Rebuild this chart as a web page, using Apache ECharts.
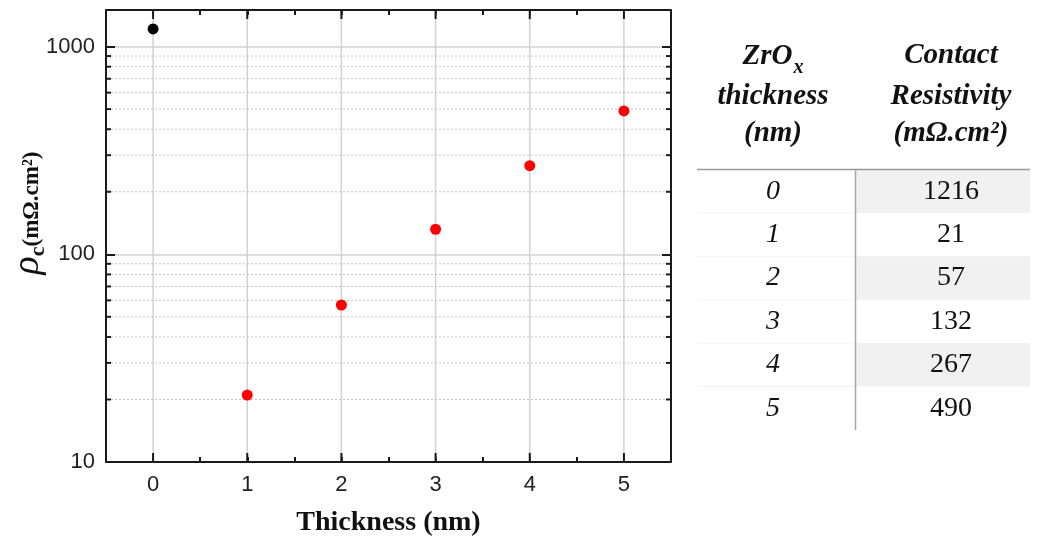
<!DOCTYPE html>
<html>
<head>
<meta charset="utf-8">
<script src="https://cdn.jsdelivr.net/npm/echarts@6/dist/echarts.min.js"></script>
<style>
  html, body { margin: 0; padding: 0; background: #ffffff; }
  #chart { width: 1038px; height: 538px; }
</style>
</head>
<body>
<div id="chart"></div>
<script>
// ZrOx interlayer thickness (nm) and measured contact resistivity (mΩ·cm²)
const thickness = [0, 1, 2, 3, 4, 5];
const resistivity = [1216, 21, 57, 132, 267, 490];

// labelled decades on the log axis and the dotted minor grid levels between them
const yTickLabels = [10, 100, 1000];
const yMinorLevels = [20, 30, 40, 50, 60, 70, 80, 90, 200, 300, 400, 500, 600, 700, 800, 900];

const AXIS_COLOR = '#1a1a1a';
const GRID_COLOR = '#d2d2d2';
const SANS = 'Liberation Sans, Arial, sans-serif';
const SERIF = 'Liberation Serif, Times New Roman, serif';

// reference sample (no ZrOx) in black, ZrOx samples in red
const bareData = [[thickness[0], resistivity[0]]];
const zrData = thickness.slice(1).map((t, i) => [t, resistivity[i + 1]]);

const chart = echarts.init(document.getElementById('chart'), null, { renderer: 'canvas' });

// ---- table on the right, built from the same arrays ----
const tableLeft = 697, tableRight = 1030, colSplit = 855.5;
const headTop = 169.5, rowH = 43.4;
const col1X = 773, col2X = 951;
const tableEls = [];

const headStyle = { fontFamily: SERIF, fontWeight: 'bold', fontStyle: 'italic', fontSize: 29, fill: '#111' };
const headLines = [
  [{ text: '{b|ZrO}{s|x}' }, { text: 'Contact' }],
  [{ text: 'thickness' }, { text: 'Resistivity' }],
  [{ text: '(nm)' }, { text: '(mΩ.cm²)' }]
];
const headY = [56, 97, 134];
headLines.forEach((pair, li) => {
  [col1X, col2X].forEach((cx, ci) => {
    tableEls.push({
      type: 'text', x: cx, y: headY[li], silent: true,
      style: Object.assign({}, headStyle, {
        text: pair[ci].text, align: 'center', verticalAlign: 'middle',
        rich: {
          b: { fontFamily: SERIF, fontWeight: 'bold', fontStyle: 'italic', fontSize: 29, fill: '#111', verticalAlign: 'bottom', lineHeight: 30 },
          s: { fontFamily: SERIF, fontWeight: 'bold', fontStyle: 'italic', fontSize: 20, fill: '#111', verticalAlign: 'bottom', lineHeight: 30, padding: [0, 0, -7, 1] }
        }
      })
    });
  });
});

thickness.forEach((t, i) => {
  const top = headTop + i * rowH;
  if (i % 2 === 0) {
    tableEls.push({ type: 'rect', silent: true, shape: { x: colSplit, y: top, width: tableRight - colSplit, height: rowH }, style: { fill: '#f1f1f1' } });
  }
  if (i > 0) {
    tableEls.push({ type: 'line', silent: true, shape: { x1: tableLeft, y1: top, x2: colSplit, y2: top }, style: { stroke: '#f3f3f3', lineWidth: 1 } });
  }
  tableEls.push({
    type: 'text', silent: true, x: col1X, y: top + rowH / 2,
    style: { text: String(t), fontFamily: SERIF, fontStyle: 'italic', fontSize: 28, fill: '#111', align: 'center', verticalAlign: 'middle' }
  });
  tableEls.push({
    type: 'text', silent: true, x: col2X, y: top + rowH / 2,
    style: { text: String(resistivity[i]), fontFamily: SERIF, fontSize: 28, fill: '#111', align: 'center', verticalAlign: 'middle' }
  });
});
const tableBottom = headTop + thickness.length * rowH;
tableEls.push({ type: 'line', silent: true, z: 10, shape: { x1: tableLeft, y1: headTop, x2: tableRight, y2: headTop }, style: { stroke: '#9a9a9a', lineWidth: 1.5 } });
tableEls.push({ type: 'line', silent: true, z: 10, shape: { x1: colSplit, y1: headTop, x2: colSplit, y2: tableBottom }, style: { stroke: '#a8a8a8', lineWidth: 1.5 } });

// rotated y-axis title: ρc(mΩ.cm²)
const yTitle = {
  type: 'text', x: 27, y: 213, rotation: Math.PI / 2, silent: true,
  style: {
    text: '{r|ρ}{c|c}{u|(mΩ.cm²)}', align: 'center', verticalAlign: 'middle',
    rich: {
      r: { fontFamily: SERIF, fontStyle: 'italic', fontSize: 38, fill: '#111', verticalAlign: 'bottom', lineHeight: 40 },
      c: { fontFamily: SERIF, fontWeight: 'bold', fontSize: 22, fill: '#111', verticalAlign: 'bottom', lineHeight: 40, padding: [0, 0, -2, 0] },
      u: { fontFamily: SERIF, fontWeight: 'bold', fontSize: 23, fill: '#111', verticalAlign: 'bottom', lineHeight: 40, padding: [0, 0, 3, 0] }
    }
  }
};

const xAxisBase = {
  type: 'value', min: -0.5, max: 5.5, interval: 0.5,
  axisLine: { show: true, onZero: false, lineStyle: { color: AXIS_COLOR, width: 2 } },
  axisTick: { show: true, inside: true, length: 5, lineStyle: { color: AXIS_COLOR, width: 2 } },
  splitLine: { show: false }
};
const yAxisBase = {
  type: 'log', logBase: 10, min: 10, max: 1500,
  axisLine: { show: true, onZero: false, lineStyle: { color: AXIS_COLOR, width: 2 } },
  axisTick: { show: true, inside: true, length: 9, lineStyle: { color: AXIS_COLOR, width: 2 } },
  minorTick: { show: false },
  minorSplitLine: { show: false }
};

chart.setOption({
  animation: false,
  backgroundColor: '#ffffff',
  grid: { left: 106, right: 367, top: 10, bottom: 76, containLabel: false, outerBoundsMode: 'none' },
  graphic: tableEls.concat([yTitle]),
  xAxis: [
    Object.assign({}, xAxisBase, {
      position: 'bottom',
      name: 'Thickness (nm)', nameLocation: 'middle', nameGap: 47,
      nameTextStyle: { fontFamily: SERIF, fontWeight: 'bold', fontSize: 28, color: '#111' },
      axisLabel: {
        margin: 12, color: '#222', fontFamily: SANS, fontSize: 22,
        formatter: v => (Math.abs(v - Math.round(v)) < 1e-9 ? String(Math.round(v)) : '')
      }
    }),
    Object.assign({}, xAxisBase, { position: 'top', axisLabel: { show: false } })
  ],
  yAxis: [
    Object.assign({}, yAxisBase, {
      position: 'left',
      axisLabel: {
        margin: 11, color: '#222', fontFamily: SANS, fontSize: 22,
        formatter: v => (yTickLabels.some(d => Math.abs(d - v) < 1e-6) ? String(v) : '')
      },
      splitLine: { show: true, lineStyle: { color: GRID_COLOR, width: 1.5 } }
    }),
    Object.assign({}, yAxisBase, { position: 'right', axisLabel: { show: false }, splitLine: { show: false } })
  ],
  series: [
    {
      // vertical grid lines and long ticks at every thickness
      type: 'custom', silent: true, z: 1, xAxisIndex: 0, yAxisIndex: 0,
      data: thickness.map(t => [t, yTickLabels[0]]),
      encode: { x: 0, y: 1 },
      renderItem: (params, api) => {
        const cs = params.coordSys;
        const x = api.coord([api.value(0), yTickLabels[0]])[0];
        const bottom = cs.y + cs.height;
        return {
          type: 'group',
          children: [
            { type: 'line', shape: { x1: x, y1: cs.y + 1, x2: x, y2: bottom - 1 }, style: { stroke: GRID_COLOR, lineWidth: 1.5 } },
            { type: 'line', shape: { x1: x, y1: bottom, x2: x, y2: bottom - 9 }, style: { stroke: AXIS_COLOR, lineWidth: 2 } },
            { type: 'line', shape: { x1: x, y1: cs.y, x2: x, y2: cs.y + 9 }, style: { stroke: AXIS_COLOR, lineWidth: 2 } }
          ]
        };
      }
    },
    {
      // dotted minor grid and minor ticks on the log axis
      type: 'custom', silent: true, z: 1, xAxisIndex: 0, yAxisIndex: 0,
      data: yMinorLevels.map(v => [thickness[0], v]),
      encode: { x: 0, y: 1 },
      renderItem: (params, api) => {
        const cs = params.coordSys;
        const y = api.coord([thickness[0], api.value(1)])[1];
        const right = cs.x + cs.width;
        return {
          type: 'group',
          children: [
            { type: 'line', shape: { x1: cs.x + 1, y1: y, x2: right - 1, y2: y }, style: { stroke: '#c4c4c4', lineWidth: 1, lineDash: [2, 2] } },
            { type: 'line', shape: { x1: cs.x, y1: y, x2: cs.x + 5, y2: y }, style: { stroke: AXIS_COLOR, lineWidth: 2 } },
            { type: 'line', shape: { x1: right, y1: y, x2: right - 5, y2: y }, style: { stroke: AXIS_COLOR, lineWidth: 2 } }
          ]
        };
      }
    },
    {
      name: '0 nm', type: 'scatter', z: 5, symbol: 'circle', symbolSize: 11,
      itemStyle: { color: '#000000', opacity: 1 },
      data: bareData
    },
    {
      name: 'ZrOx', type: 'scatter', z: 5, symbol: 'circle', symbolSize: 11,
      itemStyle: { color: '#ff0000', opacity: 1 },
      data: zrData
    }
  ]
});
</script>
</body>
</html>
